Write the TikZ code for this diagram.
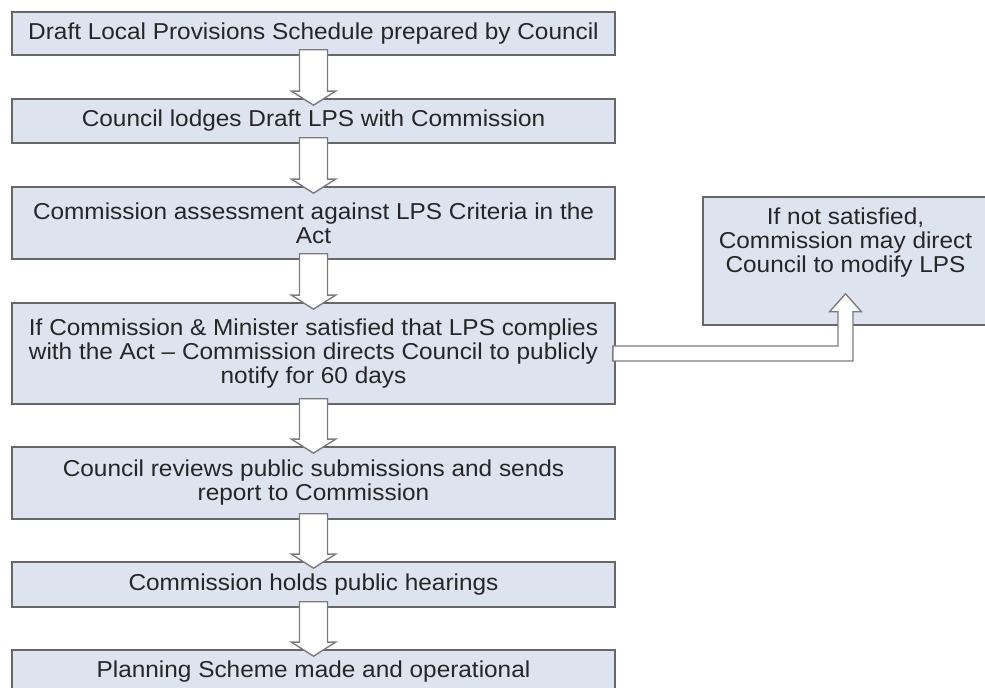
\documentclass[tikz,border=0pt]{standalone}
\usepackage{fontspec}
\setmainfont{Liberation Sans}[FakeStretch=1.06]
\usetikzlibrary{calc,positioning}

\definecolor{caixa}{HTML}{DDE3EF}
\definecolor{borda}{HTML}{676767}
\definecolor{contorno}{HTML}{7C7C7C}
\definecolor{letra}{HTML}{262626}

\tikzset{
  passo/.style={draw=borda, fill=caixa, line width=0.8pt, text=letra,
    minimum width=301.5pt, inner xsep=0pt, inner ysep=0pt, align=center},
  lado/.style={draw=borda, fill=caixa, line width=0.8pt},
  seta/.style={draw=contorno, fill=white, line width=0.7pt, line join=miter},
}

% seta larga de um passo para o seguinte
\newcommand{\setabaixo}[2]{%
  \draw[seta] ($(#1.south)+(-14,-6)$) -- ($(#2.north)+(-14,-7)$) -- ++(-8,0)
    -- ($(#2.north)+(0,7)$) -- ($(#2.north)+(22,-7)$) -- ++(-8,0)
    -- ($(#1.south)+(14,-6)$) -- cycle;}

\begin{document}
\begin{tikzpicture}[x=0.5pt,y=-0.5pt,font=\fontsize{11.5}{12}\selectfont]
  \useasboundingbox (0,0) rectangle (985,688);
  % passos, de cima para baixo (centro y / altura)
  \foreach \n/\yc/\h/\txt in {
      1/33.5/21.5pt/{Draft Local Provisions Schedule prepared by Council},
      2/121/22pt/{Council lodges Draft LPS with Commission},
      3/223/36pt/{Commission assessment against LPS Criteria in the\\Act},
      4/353.5/50.5pt/{If Commission \& Minister satisfied that LPS complies\\with the Act – Commission directs Council to publicly\\notify for 60 days},
      5/483/36pt/{Council reviews public submissions and sends\\report to Commission},
      6/584.5/22.5pt/{Commission holds public hearings},
      7/671.5/21.5pt/{Planning Scheme made and operational}} {
    \node[passo, minimum height=\h] (p\n) at (313.5,\yc) {\txt};
  }
  \foreach \a/\b in {p1/p2, p2/p3, p3/p4, p4/p5, p5/p6, p6/p7}
    \setabaixo{\a}{\b};
  % caixa lateral
  \node[lado, minimum width=142.5pt, minimum height=64pt] (mod) at (845.5,261) {};
  \node[below=2.5pt of mod.north, align=center, text=letra] (modtxt)
    {If not satisfied,\\Commission may direct\\Council to modify LPS};
  % desvio em cotovelo
  \draw[seta] ($(p4.east)+(-3,-7.5)$) -- ($(mod.south |- p4.east)+(-7.5,-7.5)$)
    -- ($(mod.south)+(-7.5,-14)$) -- ++(-8.5,0) -- ($(mod.south)+(0,-32)$)
    -- ($(mod.south)+(16,-14)$) -- ++(-8.5,0) -- ($(mod.south |- p4.east)+(7.5,7.5)$)
    -- ($(p4.east)+(-3,7.5)$) -- cycle;
\end{tikzpicture}
\end{document}
